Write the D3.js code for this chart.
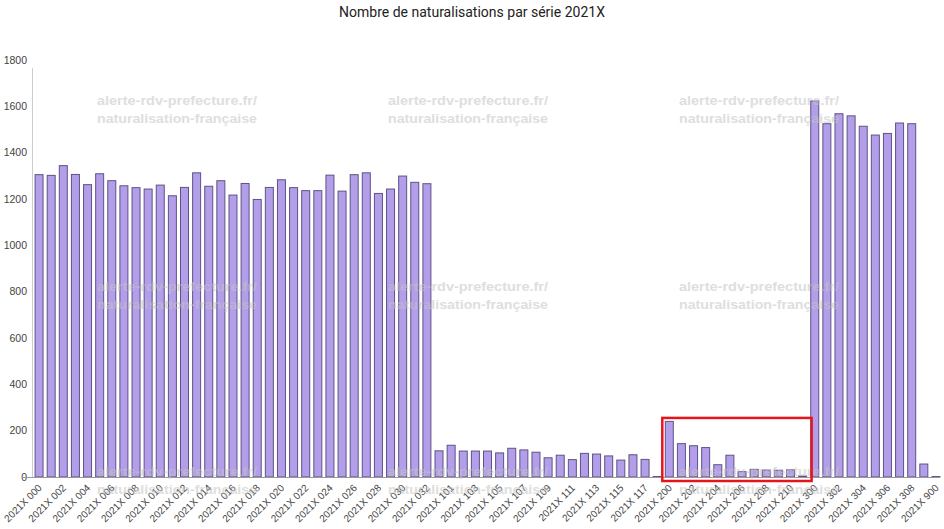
<!DOCTYPE html>
<html>
<head>
<meta charset="utf-8">
<script src="https://cdn.jsdelivr.net/npm/d3@7"></script>
<style>
  body { margin: 0; background: #fff; }
  svg { display: block; }
</style>
</head>
<body>
<svg width="944" height="529"></svg>
<script>
// series names, in the order of the chart
var series = [];
for (var i = 0; i <= 32; i++) series.push("2021X " + String(i).padStart(3, "0"));
for (var i = 100; i <= 118; i++) series.push("2021X " + i);
for (var i = 200; i <= 211; i++) series.push("2021X " + i);
for (var i = 300; i <= 309; i++) series.push("2021X " + i);
series.push("2021X 900");

// values
var values000 = [1305, 1302, 1344, 1306, 1262, 1309, 1279, 1257, 1249, 1243, 1260,
                 1214, 1250, 1313, 1255, 1279, 1217, 1267, 1198, 1250, 1283, 1249,
                 1236, 1236, 1303, 1234, 1305, 1313, 1224, 1243, 1299, 1272, 1266];
var values100 = [113, 137, 112, 112, 112, 104, 124, 117, 107, 83, 94, 75, 102, 99, 91, 73, 96, 76, 2];
var values200 = [240, 144, 135, 127, 53, 94, 23, 33, 30, 29, 31, 4];
var values300 = [1623, 1525, 1568, 1559, 1514, 1476, 1483, 1528, 1525, 56];
var values900 = [2];

var values = values000.concat(values100, values200, values300, values900);
var data = series.map(function(d, i) { return { name: d, value: values[i] }; });

var yTicks = [0, 200, 400, 600, 800, 1000, 1200, 1400, 1600, 1800];
var title = "Nombre de naturalisations par série 2021X";
var watermark = ["alerte-rdv-prefecture.fr/", "naturalisation-française"];

var svg = d3.select("svg");

var x = d3.scaleBand().domain(series).range([33, 942])
          .paddingInner(0.34).paddingOuter(0.17);
var y = d3.scaleLinear().domain([0, 1800]).range([477, 60]);

// title
svg.append("text")
   .attr("x", 472).attr("y", 17)
   .attr("text-anchor", "middle")
   .style("font-family", "Roboto, sans-serif")
   .style("font-size", "14px")
   .style("fill", "#222")
   .text(title);

// y axis labels
svg.selectAll("text.ytick").data(yTicks).enter()
   .append("text").attr("class", "ytick")
   .attr("x", 27)
   .attr("y", function(d) { return y(d); })
   .attr("dy", "0.35em")
   .attr("text-anchor", "end")
   .style("font-family", "'Liberation Sans', Arial, sans-serif")
   .style("font-size", "10.5px")
   .style("fill", "#444")
   .text(function(d) { return d; });

// y axis line
svg.append("line")
   .attr("x1", 32.5).attr("x2", 32.5)
   .attr("y1", y(1800) + 8).attr("y2", y(0))
   .style("stroke", "#ccc");

// bars
svg.selectAll("rect.bar").data(data).enter()
   .append("rect").attr("class", "bar")
   .attr("x", function(d) { return x(d.name); })
   .attr("y", function(d) { return y(d.value); })
   .attr("width", x.bandwidth())
   .attr("height", function(d) { return y(0) - y(d.value); })
   .style("fill", "#b39ee9")
   .style("stroke", "#5f5287")
   .style("stroke-width", 1);

// baseline
svg.append("line")
   .attr("x1", 22).attr("x2", 940)
   .attr("y1", y(0) + 0.5).attr("y2", y(0) + 0.5)
   .style("stroke", "#999");

// x labels, every other category
svg.selectAll("text.xtick").data(series.filter(function(d, i) { return i % 2 == 0; })).enter()
   .append("text").attr("class", "xtick")
   .attr("transform", function(d) {
     return "translate(" + (x(d) + x.bandwidth() / 2 + 1) + ",486) rotate(-45)";
   })
   .attr("text-anchor", "end")
   .attr("dy", "0.35em")
   .style("font-family", "'Liberation Sans', Arial, sans-serif")
   .style("font-size", "10px")
   .style("fill", "#444")
   .text(function(d) { return d; });

// watermark, 3 x 3
[97, 388, 679].forEach(function(wx) {
  [100, 286, 471].forEach(function(wy) {
    watermark.forEach(function(t, k) {
      svg.append("text")
         .attr("x", wx).attr("y", wy + k * 18)
         .attr("dy", "0.35em")
         .attr("textLength", 160)
         .attr("lengthAdjust", "spacingAndGlyphs")
         .style("font-family", "'Liberation Sans', Arial, sans-serif")
         .style("font-weight", "bold")
         .style("font-size", "13px")
         .style("fill", "#c4c4c4")
         .style("opacity", 0.55)
         .text(t);
    });
  });
});

// red box around the 200 series
svg.append("rect")
   .attr("x", x("2021X 200") - 3)
   .attr("y", y(255))
   .attr("width", x("2021X 211") + x.bandwidth() + 5 - (x("2021X 200") - 3))
   .attr("height", y(0) + 4 - y(255))
   .style("fill", "none")
   .style("stroke", "#e8141c")
   .style("stroke-width", 2.5);
</script>
</body>
</html>
